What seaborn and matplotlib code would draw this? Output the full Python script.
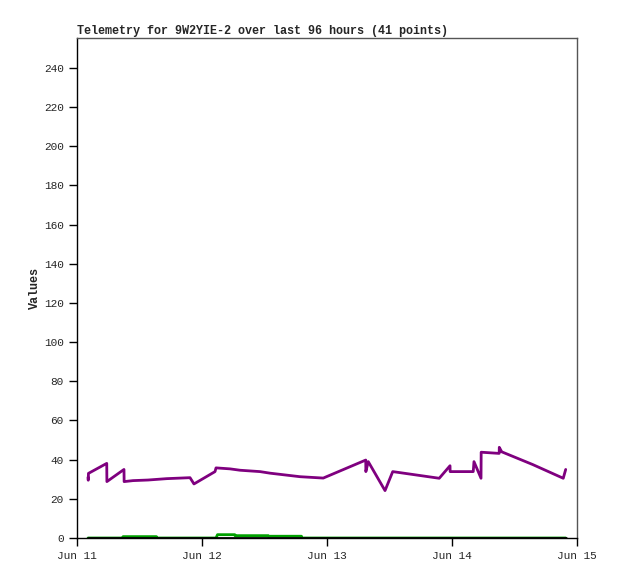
import numpy as np
import pandas as pd
import matplotlib
matplotlib.use("Agg")
import matplotlib.pyplot as plt
import matplotlib.dates as mdates
import seaborn as sns

# hours after Jun 11 00:00
purple_hours = [2.12, 2.16, 2.2, 5.71, 5.74, 9.02, 9.05, 10.75, 13.63, 17.21, 21.70,
                22.46, 26.50, 26.69, 29.38, 31.30, 35.14, 37.06, 42.82, 47.28, 55.44,
                55.46, 55.92, 59.14, 60.62, 69.55, 71.62, 71.64, 76.08, 76.22, 77.57,
                77.60, 81.06, 81.08, 81.55, 87.5, 93.36, 93.83]
purple_vals = [31.0, 29.5, 33.0, 38.1, 28.8, 35.0, 28.8, 29.3, 29.6, 30.3, 30.8,
               27.6, 33.9, 35.8, 35.3, 34.6, 33.9, 33.1, 31.3, 30.6, 39.8,
               33.9, 39.0, 24.2, 33.9, 30.5, 36.9, 33.9, 33.9, 39.0, 30.5,
               43.8, 43.2, 46.3, 44.0, 37.5, 30.5, 35.0]

green_hours = [2.12, 8.8, 8.85, 15.25, 15.3, 26.69, 26.98, 30.3, 30.33, 36.7, 36.73,
               43.1, 43.13, 93.83]
green_vals = [0.0, 0.0, 0.7, 0.7, 0.0, 0.0, 1.7, 1.7, 1.2, 1.2, 0.9,
              0.9, 0.0, 0.0]

black_hours = [2.12, 93.83]
black_vals = [0.0, 0.0]

start = pd.Timestamp("2024-06-11")
def to_dt(h):
    return [start + pd.Timedelta(hours=x) for x in h]

sns.set_style("white")
plt.rcParams['font.family'] = ['Liberation Mono', 'DejaVu Sans Mono']

fig = plt.figure(figsize=(6.18, 5.79), dpi=100)
ax = fig.add_axes([77/618, 1-538/579, 500/618, 500/579])

sns.lineplot(x=to_dt(green_hours), y=green_vals, ax=ax, color="#00a000", lw=2,
             sort=False, estimator=None)
sns.lineplot(x=to_dt(black_hours), y=black_vals, ax=ax, color="black", lw=2,
             sort=False, estimator=None)
sns.lineplot(x=to_dt(purple_hours), y=purple_vals, ax=ax, color="#7f007f", lw=2,
             sort=False, estimator=None)

ax.set_xlim(start, start + pd.Timedelta(days=4))
ax.set_ylim(0, 255.3)
ax.set_yticks(np.arange(0, 241, 20))
ax.xaxis.set_major_locator(mdates.DayLocator())
ax.xaxis.set_major_formatter(mdates.DateFormatter("%b %d"))
ax.tick_params(direction="out", length=6, width=1, labelsize=8, color="black",
               bottom=True, left=True)
for s in ax.spines.values():
    s.set_color("black")
    s.set_linewidth(1)
ax.spines['top'].set_color("#555555")
ax.spines['right'].set_color("#555555")
ax.set_ylabel("Values", fontsize=8.5, fontweight="bold", labelpad=2)
ax.set_xlabel("")
ax.set_title("Telemetry for 9W2YIE-2 over last 96 hours (41 points)",
             fontsize=8.5, fontweight="bold", loc="left", pad=3)

fig.savefig("out.png", dpi=100)
